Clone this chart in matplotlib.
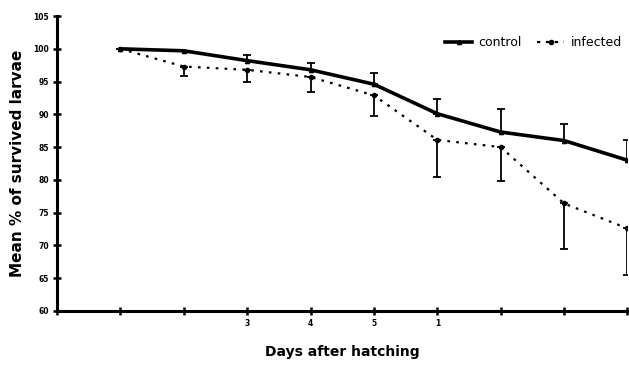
import numpy as np
import matplotlib
matplotlib.use('Agg')
import matplotlib.pyplot as plt
from matplotlib.lines import Line2D

days = [1, 2, 3, 4, 5, 6, 7, 8, 9]
control = [100, 99.7, 98.2, 96.8, 94.6, 90.1, 87.3, 86.0, 83.0]
control_err = [0, 0, 0.8, 1.0, 1.7, 2.3, 3.5, 2.6, 3.1]
infected = [100, 97.3, 96.8, 95.7, 92.9, 86.1, 85.0, 76.4, 72.6]
infected_err = [0, 1.5, 1.9, 2.3, 3.2, 5.7, 5.2, 6.9, 7.1]

xtick_pos = [0, 1, 2, 3, 4, 5, 6, 7, 8, 9]
xtick_labels = ['', '', '', '3', '4', '5', '1', '', '', '']
yticks = [60, 65, 70, 75, 80, 85, 90, 95, 100, 105]

fig = plt.figure(figsize=(6.29, 3.65), dpi=100)
ax = fig.add_axes([0.0906, 0.148, 0.907, 0.808])

zeros = [0] * len(days)
ax.errorbar(days, control, yerr=[zeros, control_err], color='black', lw=2.6,
            marker='^', ms=3, capsize=3, elinewidth=1.3, capthick=1.3)
ax.errorbar(days, infected, yerr=[infected_err, zeros], color='black', lw=1.6,
            ls=(0, (1.2, 2.8)), marker='o', ms=3, capsize=3, elinewidth=1.3,
            capthick=1.3)

ax.set_xlim(0, 9)
ax.set_ylim(60, 105)
ax.set_yticks(yticks)
ax.set_yticklabels([str(v) for v in yticks], fontsize=5.5, fontweight='bold')
ax.set_xticks(xtick_pos)
ax.set_xticklabels(xtick_labels, fontsize=5.5, fontweight='bold')
ax.tick_params(direction='inout', length=6, width=1.8, pad=3)

for s in ['top', 'right']:
    ax.spines[s].set_visible(False)
for s in ['left', 'bottom']:
    ax.spines[s].set_linewidth(2.2)

ax.set_ylabel('Mean % of survived larvae', fontsize=11, fontweight='bold', labelpad=6)
ax.set_xlabel('Days after hatching', fontsize=10, fontweight='bold', labelpad=12)

handles = [
    Line2D([], [], color='black', lw=2.6, marker='^', ms=3),
    Line2D([], [], color='black', lw=1.6, ls=(0, (1.5, 2.5)), marker='o', ms=3),
]
ax.legend(handles, ['control', 'infected'], loc='upper right',
          bbox_to_anchor=(1.01, 0.97), ncol=2, frameon=False, fontsize=9,
          handlelength=2.2, columnspacing=1.2, handletextpad=0.5)

fig.savefig('out.png', dpi=100)
